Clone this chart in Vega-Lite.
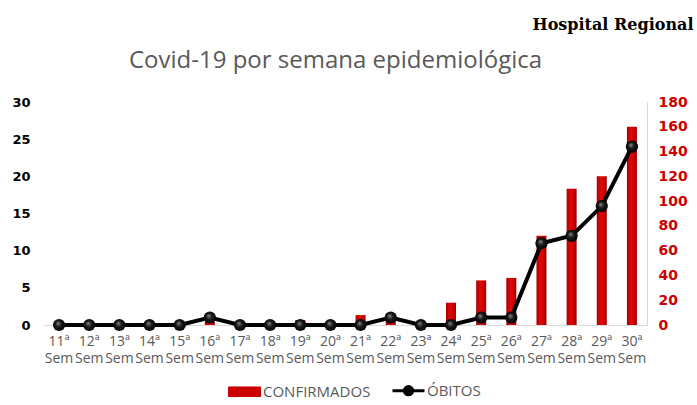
{
  "$schema": "https://vega.github.io/schema/vega-lite/v6.json",
  "width": 603,
  "height": 223,
  "autosize": {"type": "none"},
  "padding": {"left": 44, "top": 102, "right": 50, "bottom": 80},
  "background": "white",
  "data": {
    "values": [
      {"semana": "11ª Sem", "confirmados": 0, "obitos": 0},
      {"semana": "12ª Sem", "confirmados": 0, "obitos": 0},
      {"semana": "13ª Sem", "confirmados": 0, "obitos": 0},
      {"semana": "14ª Sem", "confirmados": 0, "obitos": 0},
      {"semana": "15ª Sem", "confirmados": 0, "obitos": 0},
      {"semana": "16ª Sem", "confirmados": 3, "obitos": 1},
      {"semana": "17ª Sem", "confirmados": 0, "obitos": 0},
      {"semana": "18ª Sem", "confirmados": 0, "obitos": 0},
      {"semana": "19ª Sem", "confirmados": 4, "obitos": 0},
      {"semana": "20ª Sem", "confirmados": 0, "obitos": 0},
      {"semana": "21ª Sem", "confirmados": 8, "obitos": 0},
      {"semana": "22ª Sem", "confirmados": 4, "obitos": 1},
      {"semana": "23ª Sem", "confirmados": 2, "obitos": 0},
      {"semana": "24ª Sem", "confirmados": 18, "obitos": 0},
      {"semana": "25ª Sem", "confirmados": 36, "obitos": 1},
      {"semana": "26ª Sem", "confirmados": 38, "obitos": 1},
      {"semana": "27ª Sem", "confirmados": 72, "obitos": 11},
      {"semana": "28ª Sem", "confirmados": 110, "obitos": 12},
      {"semana": "29ª Sem", "confirmados": 120, "obitos": 16},
      {"semana": "30ª Sem", "confirmados": 160, "obitos": 24}
    ]
  },
  "encoding": {
    "x": {
      "field": "semana",
      "type": "nominal",
      "sort": null,
      "scale": {"paddingInner": 0.1, "paddingOuter": 0.05},
      "axis": {
        "title": null,
        "labelAngle": 0,
        "labelExpr": "split(datum.label, ' ')",
        "labelFont": "Open Sans",
        "labelFontSize": 14,
        "labelColor": "#595959",
        "labelLineHeight": 17,
        "labelPadding": 9,
        "ticks": false,
        "domainColor": "#d9d9d9",
        "labelOverlap": false
      }
    }
  },
  "layer": [
    {
      "mark": {
        "type": "bar",
        "size": 10,
        "fill": {
          "gradient": "linear",
          "x1": 0, "y1": 0, "x2": 1, "y2": 0,
          "stops": [
            {"offset": 0, "color": "#a80000"},
            {"offset": 0.4, "color": "#e00808"},
            {"offset": 0.7, "color": "#d00000"},
            {"offset": 1, "color": "#960000"}
          ]
        }
      },
      "encoding": {
        "y": {
          "field": "confirmados",
          "type": "quantitative",
          "scale": {"domain": [0, 180], "nice": false},
          "axis": {
            "orient": "right",
            "values": [0, 20, 40, 60, 80, 100, 120, 140, 160, 180],
            "grid": false,
            "ticks": false,
            "domainColor": "#d9d9d9",
            "labelFont": "DejaVu Sans",
            "labelFontWeight": "bold",
            "labelFontSize": 14,
            "labelColor": "#cc0000",
            "labelPadding": 11,
            "title": "Hospital Regional",
            "titleAngle": 0,
            "titleAlign": "right",
            "titleBaseline": "middle",
            "titleX": 46,
            "titleY": -78,
            "titleFont": "DejaVu Serif",
            "titleFontWeight": "bold",
            "titleFontSize": 16,
            "titleColor": "#000000"
          }
        }
      }
    },
    {
      "encoding": {
        "y": {
          "field": "obitos",
          "type": "quantitative",
          "scale": {"domain": [0, 30], "nice": false},
          "axis": {
            "orient": "left",
            "values": [0, 5, 10, 15, 20, 25, 30],
            "grid": false,
            "ticks": false,
            "domain": false,
            "labelFont": "DejaVu Sans",
            "labelFontWeight": "bold",
            "labelFontSize": 13,
            "labelColor": "#000000",
            "labelPadding": 14,
            "title": "Covid-19 por semana epidemiológica",
            "titleAngle": 0,
            "titleAlign": "center",
            "titleBaseline": "middle",
            "titleX": 291,
            "titleY": -42,
            "titleFont": "Open Sans",
            "titleFontWeight": "normal",
            "titleFontSize": 24,
            "titleColor": "#595959"
          }
        }
      },
      "layer": [
        {
          "mark": {"type": "line", "strokeWidth": 4},
          "encoding": {
            "color": {
              "datum": "ÓBITOS",
              "scale": {"domain": ["CONFIRMADOS", "ÓBITOS"], "range": ["#cc0000", "#000000"]},
              "legend": {
                "title": null,
                "orient": "none",
                "direction": "horizontal",
                "legendX": 193,
                "legendY": 281,
                "symbolSize": 1024,
                "labelFont": "Open Sans",
                "labelFontSize": 15,
                "labelColor": "#595959",
                "labelOffset": 11,
                "columnPadding": 15,
                "encode": {
                  "symbols": {
                    "update": {
                      "shape": {"signal": "datum.value === 'CONFIRMADOS' ? 'M-1,-0.3H1V0.3H-1Z' : 'M-1,0H-0.26M0.26,0H1M0.26,0A0.26,0.26 0 1,1 -0.26,0A0.26,0.26 0 1,1 0.26,0Z'"},
                      "fill": {"signal": "datum.value === 'CONFIRMADOS' ? '#cc0000' : '#000000'"},
                      "stroke": {"signal": "datum.value === 'CONFIRMADOS' ? '#a00000' : '#000000'"},
                      "strokeWidth": {"signal": "datum.value === 'CONFIRMADOS' ? 1 : 3"},
                      "opacity": {"value": 1}
                    }
                  }
                }
              }
            }
          }
        },
        {
          "mark": {
            "type": "point",
            "shape": "circle",
            "filled": true,
            "size": 150,
            "opacity": 1,
            "fill": {
              "gradient": "radial",
              "x1": 0.4, "y1": 0.35, "r1": 0,
              "x2": 0.5, "y2": 0.5, "r2": 0.55,
              "stops": [
                {"offset": 0, "color": "#8a8a8a"},
                {"offset": 0.45, "color": "#1a1a1a"},
                {"offset": 1, "color": "#000000"}
              ]
            }
          }
        }
      ]
    }
  ],
  "resolve": {"scale": {"y": "independent"}},
  "config": {"view": {"stroke": null}}
}
